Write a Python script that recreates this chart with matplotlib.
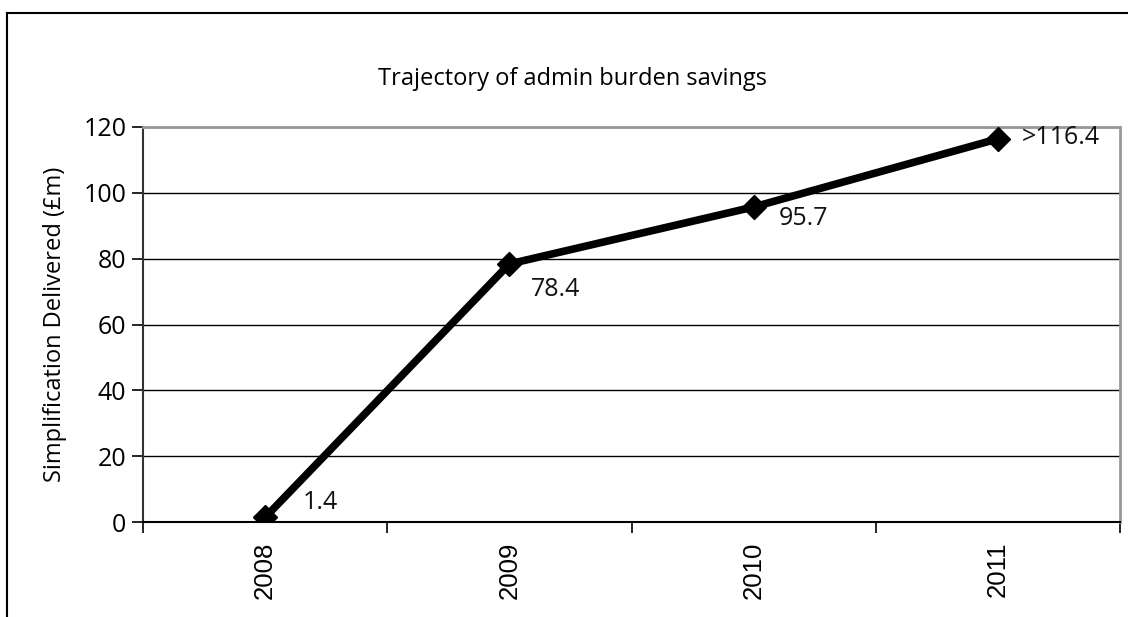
import matplotlib
matplotlib.use("Agg")
import matplotlib.pyplot as plt
from matplotlib.lines import Line2D

years = ["2008", "2009", "2010", "2011"]
savings = [1.4, 78.4, 95.7, 116.4]
labels = ["1.4", "78.4", "95.7", ">116.4"]
label_offsets_px = [(38, 15), (22, -26), (25, -12), (24, 1)]
yticks = [0, 20, 40, 60, 80, 100, 120]

plt.rcParams['font.family'] = ['Open Sans', 'DejaVu Sans']

W, H = 1128, 617
fig = plt.figure(figsize=(W / 100, H / 100), dpi=100)

# outer chart border (left and top visible)
fig.add_artist(Line2D([7 / W, 7 / W], [0, 1 - 13 / H], transform=fig.transFigure, color='black', lw=1.5))
fig.add_artist(Line2D([7 / W, 1], [1 - 13 / H, 1 - 13 / H], transform=fig.transFigure, color='black', lw=1.5))

left, right, top, bottom = 143, 1120, 127, 522
ax = fig.add_axes([left / W, 1 - bottom / H, (right - left) / W, (bottom - top) / H])

x = list(range(len(years)))
ax.plot(x, savings, color='black', lw=5.5, marker='D', markersize=12.5, zorder=3, solid_joinstyle='miter')

for xi, yi, lab, (dx, dy) in zip(x, savings, labels, label_offsets_px):
    ax.annotate(lab, (xi, yi), xytext=(dx, dy), textcoords='offset pixels',
                ha='left', va='center', fontsize=18, color='#111111')

ax.set_xlim(-0.5, len(years) - 0.5)
ax.set_ylim(0, 120)
ax.set_yticks(yticks)
ax.set_yticklabels([str(v) for v in yticks], fontsize=18)
ax.yaxis.grid(True, color='black', lw=1)
ax.set_axisbelow(True)

ax.set_xticks(x)
ax.set_xticklabels(years, rotation=90, fontsize=18.5, family=['Liberation Sans', 'DejaVu Sans'])
ax.tick_params(axis='x', which='major', length=0, pad=14)
ax.set_xticks([i - 0.5 for i in range(len(years) + 1)], minor=True)
ax.tick_params(axis='x', which='minor', length=8, width=1.2, color='black', direction='out')
ax.tick_params(axis='y', length=8, width=1.2, color='black', direction='out', pad=4)

for s in ['top', 'right']:
    ax.spines[s].set_color('#999999')
    ax.spines[s].set_linewidth(2)
ax.spines['left'].set_color('#333333')
ax.spines['left'].set_linewidth(1.5)
ax.spines['bottom'].set_color('black')
ax.spines['bottom'].set_linewidth(1.5)

ax.set_ylabel("Simplification Delivered (£m)", fontsize=17)
ax.yaxis.set_label_coords(-76 / (right - left), 0.5)

fig.text(572 / W, 1 - 85 / H, "Trajectory of admin burden savings",
         ha='center', va='baseline', fontsize=17)

fig.savefig("out.png", dpi=100)
